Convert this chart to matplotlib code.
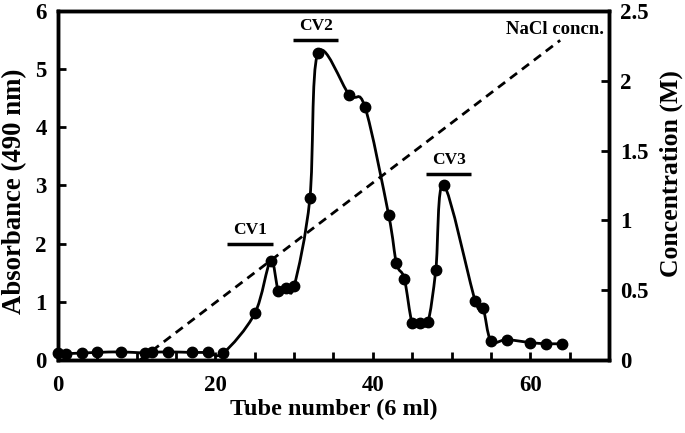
import matplotlib
matplotlib.use("Agg")
import matplotlib.pyplot as plt
from matplotlib.path import Path
from matplotlib.patches import PathPatch
from matplotlib.ticker import MultipleLocator, FixedLocator
import numpy as np

# absorbance at 490 nm per tube
tube = [0, 1, 3, 5, 8, 11, 12, 14, 17, 19, 21, 25, 27, 28, 29, 30, 32, 33, 37, 39,
        42, 43, 44, 45, 46, 47, 48, 49, 53, 54, 55, 57, 60, 62, 64]
absorbance = [0.12, 0.11, 0.12, 0.13, 0.14, 0.12, 0.13, 0.14, 0.13, 0.13, 0.12, 0.80,
              1.70, 1.19, 1.23, 1.27, 2.78, 5.27, 4.56, 4.35, 2.50, 1.66, 1.40, 0.63,
              0.64, 0.65, 1.55, 3.01, 1.02, 0.90, 0.33, 0.35, 0.30, 0.28, 0.28]

# NaCl gradient (M)
nacl_tube = [10.4, 63.8]
nacl_conc = [0.0, 2.29]

# peak labels: name, bar start, bar end, bar height
peak_names = ["CV1", "CV2", "CV3"]
peak_x0 = [21.5, 29.9, 46.8]
peak_x1 = [27.3, 35.6, 52.5]
peak_y = [2.0, 5.5, 3.2]

plt.rcParams['font.family'] = ['Liberation Serif', 'DejaVu Serif']
plt.rcParams['font.weight'] = 'bold'

fig = plt.figure(figsize=(6.85, 4.33), dpi=100)
ax = fig.add_axes([0.0847, 0.1686, 0.8043, 0.806])
ax2 = ax.twinx()


def smooth_path(xs, ys):
    # Catmull-Rom style smoothing, like a spreadsheet "smoothed line"
    pts = np.column_stack([xs, ys]).astype(float)
    n = len(pts)
    verts = [pts[0]]
    codes = [Path.MOVETO]
    for i in range(n - 1):
        p0 = pts[i - 1] if i > 0 else pts[i]
        p1 = pts[i]
        p2 = pts[i + 1]
        p3 = pts[i + 2] if i + 2 < n else pts[i + 1]
        c1 = p1 + (p2 - p0) / 6.0
        c2 = p2 - (p3 - p1) / 6.0
        verts += [c1, c2, p2]
        codes += [Path.CURVE4] * 3
    return Path(verts, codes)


ax.add_patch(PathPatch(smooth_path(tube, absorbance), fill=False, lw=2.0,
                       edgecolor='black', transform=ax.transData, zorder=3))
ax.plot(tube, absorbance, 'o', color='black', ms=7.5, zorder=4, clip_on=False)

ax2.plot(nacl_tube, nacl_conc, color='black', lw=2.0, dashes=(3.2, 2.2))

for name, x0, x1, y in zip(peak_names, peak_x0, peak_x1, peak_y):
    ax.plot([x0, x1], [y, y], color='black', lw=2.5, solid_capstyle='butt')
    ax.text((x0 + x1) / 2, y + 0.1, name, ha='center', va='bottom',
            fontsize=12.5, fontweight='bold')

ax.text(69.4, 5.69, "NaCl concn.", ha='right', va='center', fontsize=13.5,
        fontweight='bold')

ax.set_xlim(0, 70)
ax.set_ylim(0, 6)
ax2.set_ylim(0, 2.5)

ax.xaxis.set_major_locator(FixedLocator([0, 20, 40, 60]))
ax.xaxis.set_minor_locator(MultipleLocator(5))
ax.yaxis.set_major_locator(MultipleLocator(1))
ax2.yaxis.set_major_locator(MultipleLocator(0.5))
ax2.yaxis.set_major_formatter(plt.FuncFormatter(lambda v, p: f"{v:g}"))

for a in (ax, ax2):
    for s in a.spines.values():
        s.set_linewidth(2.5)
    a.tick_params(direction='in', length=6, width=2, labelsize=16.5, pad=8)
    a.tick_params(which='minor', direction='in', length=6, width=2)
    for lab in a.get_xticklabels() + a.get_yticklabels():
        lab.set_fontweight('bold')
ax.tick_params(axis='x', pad=11)

ax.set_xlabel("Tube number (6 ml)", fontsize=17.5, fontweight='bold', labelpad=2)
ax.set_ylabel("Absorbance (490 nm)", fontsize=19.3, fontweight='bold')
ax2.set_ylabel("Concentration (M)", fontsize=18.5, fontweight='bold')
ax.yaxis.set_label_coords(-0.056, 0.484)
ax2.yaxis.set_label_coords(1.092, 0.533)

fig.savefig("out.png", dpi=100)
